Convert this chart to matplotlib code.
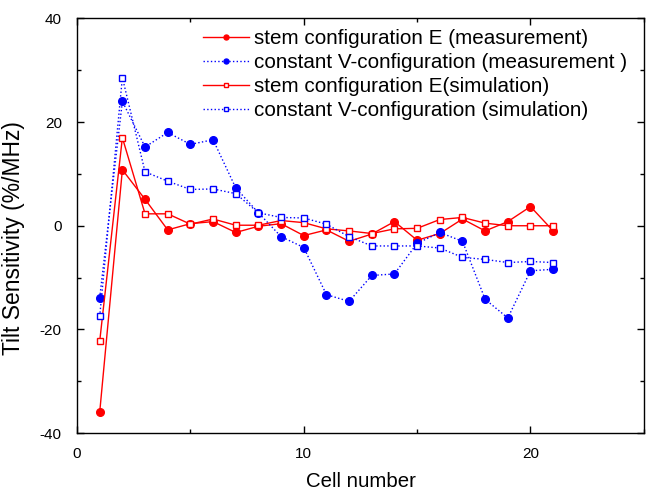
import matplotlib.pyplot as plt
from matplotlib.ticker import MultipleLocator

plt.rcParams['font.family'] = ['Liberation Sans', 'DejaVu Sans']
plt.rcParams['axes.unicode_minus'] = False

# --- data ---
cells = list(range(1, 22))
stem_meas = [-36.0, 10.8, 5.1, -0.8, 0.4, 0.8, -1.3, -0.1, 0.4, -1.9, -0.8, -3.0,
             -1.6, 0.8, -2.8, -1.5, 1.3, -1.0, 0.8, 3.7, -1.0]
constv_meas = [-13.9, 24.0, 15.2, 18.0, 15.7, 16.6, 7.3, 2.5, -2.1, -4.2, -13.3, -14.6,
               -9.6, -9.3, -3.4, -1.3, -3.0, -14.2, -17.8, -8.7, -8.4]
stem_sim = [-22.3, 17.0, 2.3, 2.3, 0.3, 1.3, 0.1, 0.1, 1.0, 0.6, -0.6, -1.0,
            -1.5, -0.6, -0.5, 1.2, 1.6, 0.5, 0.0, 0.0, 0.0]
constv_sim = [-17.5, 28.6, 10.4, 8.6, 7.0, 7.1, 6.2, 2.5, 1.6, 1.5, 0.3, -2.1,
              -3.9, -3.9, -3.9, -4.3, -6.1, -6.5, -7.1, -6.9, -7.1]

labels = ['stem configuration E (measurement)',
          'constant V-configuration (measurement )',
          'stem configuration E(simulation)',
          'constant V-configuration (simulation)']

fig = plt.figure(figsize=(6.55, 4.93), dpi=100)
ax = fig.add_axes([0.1176, 0.1217, 0.8654, 0.8408])

ax.plot(cells, stem_meas, color='#ff0000', lw=1.0, marker='o', ms=5.5,
        label=labels[0])
ax.plot(cells, constv_meas, color='#0000ff', lw=1.0, ls=':', marker='o', ms=5.5,
        label=labels[1])
ax.plot(cells, stem_sim, color='#ff0000', lw=1.0, marker='s', ms=4.5,
        mfc='white', mec='#ff0000', mew=1.0, label=labels[2])
ax.plot(cells, constv_sim, color='#0000ff', lw=1.0, ls=':', marker='s', ms=4.5,
        mfc='white', mec='#0000ff', mew=1.0, label=labels[3])

ax.set_xlim(0, 25)
ax.set_ylim(-40, 40)
ax.xaxis.set_major_locator(MultipleLocator(10))
ax.xaxis.set_minor_locator(MultipleLocator(5))
ax.yaxis.set_major_locator(MultipleLocator(20))
ax.yaxis.set_minor_locator(MultipleLocator(10))
ax.tick_params(which='both', direction='in', top=True, right=True,
               labelsize=11, width=1.0)
ax.tick_params(which='major', length=5)
ax.tick_params(which='minor', length=3)
ax.tick_params(axis='x', which='both', pad=10)
ax.tick_params(axis='y', which='both', pad=11)
for sp in ax.spines.values():
    sp.set_linewidth(1.0)

ax.set_xlabel('Cell number', fontsize=14.7, labelpad=8)
ax.set_ylabel('Tilt Sensitivity (%/MHz)', fontsize=16.5)
ax.yaxis.set_label_coords(-0.092, 0.47)

ax.legend(loc='upper right', bbox_to_anchor=(0.981, 0.990),
          fontsize=14.9, frameon=False, handlelength=2.2,
          handletextpad=0.25, labelspacing=0.25, markerscale=0.65,
          borderaxespad=0.1, borderpad=0.2)

fig.savefig('out.png', dpi=100)
